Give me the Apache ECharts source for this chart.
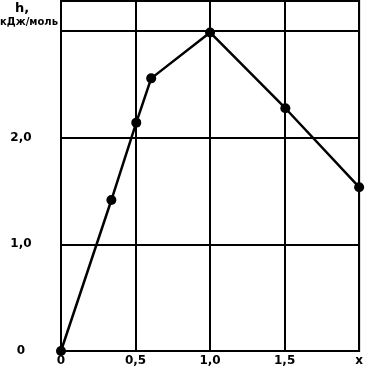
<!DOCTYPE html>
<html><head><meta charset="utf-8">
<script src="https://cdn.jsdelivr.net/npm/echarts@6/dist/echarts.min.js"></script>
<style>html,body{margin:0;padding:0;background:#fff}#c{width:366px;height:375px}</style>
</head><body><div id="c"></div>
<script>
const xValues = [0, 0.338, 0.505, 0.605, 1.0, 1.505, 2.0];
const hValues = [0, 1.415, 2.14, 2.555, 2.985, 2.275, 1.535];
const xTickValues = [0, 0.5, 1, 1.5, 2];
const xTickLabels = ['0', '0,5', '1,0', '1,5', 'x'];
const yTickValues = [0, 1, 2];
const yTickLabels = ['0', '1,0', '2,0'];
const yTitleLine1 = 'h,';
const yTitleLine2 = 'кДж/моль';

function lookup(vals, labels, v) {
  for (let i = 0; i < vals.length; i++) if (Math.abs(vals[i] - v) < 1e-6) return labels[i];
  return '';
}
const font = 'DejaVu Sans';
const chart = echarts.init(document.getElementById('c'), null, {renderer: 'canvas'});
chart.setOption({
  animation: false,
  grid: {left: 61, right: 5, top: 1, bottom: 24, show: true, borderColor: '#000', borderWidth: 2, backgroundColor: 'transparent'},
  xAxis: {
    type: 'value', min: 0, max: 2, interval: 0.5,
    axisLine: {show: true, lineStyle: {color: '#000', width: 2}},
    axisTick: {show: false},
    splitLine: {show: true, lineStyle: {color: '#000', width: 2}},
    axisLabel: {color: '#000', fontFamily: font, fontWeight: 'bold', fontSize: 12, margin: 4,
      formatter: v => lookup(xTickValues, xTickLabels, v)}
  },
  yAxis: {
    type: 'value', min: 0, max: 3.28, interval: 1,
    axisLine: {show: true, lineStyle: {color: '#000', width: 2}},
    axisTick: {show: false},
    splitLine: {show: true, lineStyle: {color: '#000', width: 2}},
    axisLabel: {color: '#000', fontFamily: font, fontWeight: 'bold', fontSize: 12, margin: 40, align: 'center',
      formatter: v => lookup(yTickValues, yTickLabels, v)}
  },
  graphic: [
    {type: 'text', left: 15, top: 2, style: {text: yTitleLine1, fill: '#000', font: 'bold 13px "DejaVu Sans"'}},
    {type: 'text', left: 0, top: 17, style: {text: yTitleLine2, fill: '#000', font: 'bold 10px "DejaVu Sans"'}}
  ],
  series: [{
    type: 'line',
    data: xValues.map((x, i) => [x, hValues[i]]),
    symbol: 'circle', symbolSize: 10,
    itemStyle: {color: '#000'},
    lineStyle: {color: '#000', width: 2.5},
    clip: false
  }]
});
</script></body></html>
